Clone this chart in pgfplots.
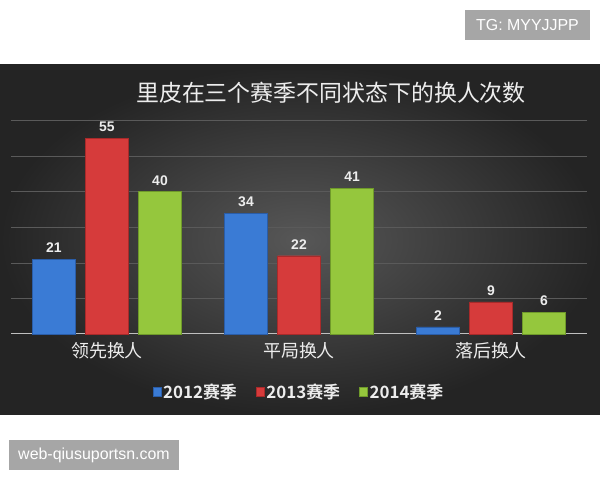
\documentclass[border=0pt]{standalone}
\usepackage{pgfplots}
\pgfplotsset{compat=1.18}
\usepackage{fontspec}
\setmainfont{Liberation Sans}
\newfontfamily\cjk{Noto Sans CJK SC}
\newfontfamily\cjkb{Noto Sans CJK SC}[BoldFont={* Bold}]
\definecolor{bgdark}{HTML}{242424}
\definecolor{bglight}{HTML}{575757}
\definecolor{cblue}{HTML}{3A7BD5}
\definecolor{cbluedk}{HTML}{2A5DA8}
\definecolor{cred}{HTML}{D63B3B}
\definecolor{creddk}{HTML}{A82A2A}
\definecolor{cgreen}{HTML}{95C73D}
\definecolor{cgreendk}{HTML}{6F9A2A}
\definecolor{gridc}{HTML}{5A5A5A}
\definecolor{txt}{HTML}{EDEDED}
\definecolor{wm}{HTML}{A6A6A6}
\begin{document}
\begin{tikzpicture}[x=1bp,y=1bp]
\useasboundingbox (0,0) rectangle (600,480);
\fill[white] (0,0) rectangle (600,480);
\shade[inner color=bglight, outer color=bgdark] (0,65) rectangle (600,415);
% watermarks
\fill[wm] (465,440) rectangle (590,470);
\node[text=white,font=\fontsize{16}{18}\selectfont] at (527.5,455) {TG: MYYJJPP};
\fill[wm] (9,10) rectangle (179,40);
\node[text=white,font=\fontsize{16}{18}\selectfont] at (94,25) {web-qiusuportsn.com};
% title
\node[text=txt,font=\cjk\fontsize{23}{26}\selectfont] at (331,387) {里皮在三个赛季不同状态下的换人次数};
\begin{axis}[
  at={(11bp,146bp)}, anchor=south west,
  scale only axis, width=576bp, height=213.5bp,
  xmin=-0.5, xmax=2.5, ymin=0, ymax=60,
  xtick={0,1,2}, xticklabels={领先换人,平局换人,落后换人},
  ytick={10,20,30,40,50,60}, yticklabels={},
  extra y ticks={0}, extra y tick labels={},
  extra y tick style={grid style={draw=white!75!black, line width=1pt}},
  ymajorgrids, grid style={gridc, line width=0.6pt},
  major tick length=0pt,
  axis line style={draw=none},
  /pgf/number format/assume math mode=true,
  ybar=10bp, bar width=43bp,
  xticklabel style={text=txt, font=\cjk\fontsize{18}{20}\selectfont, yshift=-5bp},
  nodes near coords,
  every node near coord/.append style={text=txt, font=\bfseries\fontsize{14}{16}\selectfont, yshift=3bp},
  legend style={at={(0.5,-0.272)}, anchor=center, draw=none, fill=none,
    legend columns=3, text=txt, font=\cjkb\bfseries\fontsize{17}{19}\selectfont,
    /tikz/every even column/.append style={column sep=17bp},
    nodes={inner xsep=2bp}},
  legend image code/.code={\fill[#1] (0bp,-4.5bp) rectangle (8bp,4.5bp);},
  clip=false,
]
\addplot[draw=cbluedk, fill=cblue] coordinates {(0,21) (1,34) (2,2)};
\addplot[draw=creddk, fill=cred] coordinates {(0,55) (1,22) (2,9)};
\addplot[draw=cgreendk, fill=cgreen] coordinates {(0,40) (1,41) (2,6)};
\legend{2012赛季,2013赛季,2014赛季}
\end{axis}
\end{tikzpicture}
\end{document}
